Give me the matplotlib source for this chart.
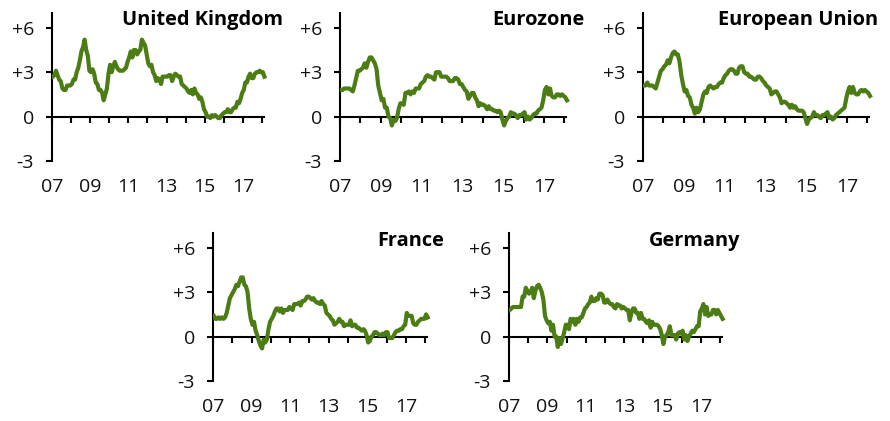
import matplotlib
matplotlib.use('Agg')
import matplotlib.pyplot as plt
import numpy as np

plt.rcParams['font.family'] = ['Open Sans', 'DejaVu Sans']

# ---- data: monthly y/y inflation, Jan 2007 .. Feb 2018 ----
start_year = 2007

uk = [2.7, 2.8, 3.1, 2.8, 2.5, 2.4, 1.9, 1.8, 1.8, 2.1, 2.1, 2.1,
      2.2, 2.5, 2.5, 3.0, 3.3, 3.8, 4.4, 4.7, 5.2, 4.5, 4.1, 3.1,
      3.0, 3.2, 2.9, 2.3, 2.2, 1.8, 1.8, 1.6, 1.1, 1.5, 1.9, 2.9,
      3.5, 3.0, 3.4, 3.7, 3.4, 3.2, 3.1, 3.1, 3.1, 3.2, 3.3, 3.7,
      4.0, 4.4, 4.0, 4.5, 4.5, 4.2, 4.4, 4.5, 5.2, 5.0, 4.8, 4.2,
      3.6, 3.4, 3.5, 3.0, 2.8, 2.4, 2.6, 2.5, 2.2, 2.7, 2.7, 2.7,
      2.7, 2.8, 2.8, 2.4, 2.7, 2.9, 2.8, 2.7, 2.7, 2.2, 2.1, 2.0,
      1.9, 1.7, 1.6, 1.8, 1.5, 1.9, 1.6, 1.5, 1.2, 1.3, 1.0, 0.5,
      0.3, 0.0, 0.0, -0.1, 0.1, 0.0, 0.1, 0.0, -0.1, -0.1, 0.1, 0.2,
      0.3, 0.3, 0.5, 0.3, 0.3, 0.5, 0.6, 0.6, 1.0, 0.9, 1.2, 1.6,
      1.8, 2.3, 2.3, 2.7, 2.9, 2.6, 2.6, 2.9, 3.0, 3.0, 3.1, 3.0,
      3.0, 2.7]

eurozone = [1.8, 1.8, 1.9, 1.9, 1.9, 1.9, 1.8, 1.7, 2.1, 2.6, 3.1, 3.1,
            3.2, 3.3, 3.6, 3.3, 3.7, 4.0, 4.0, 3.8, 3.6, 3.2, 2.1, 1.6,
            1.1, 1.2, 0.6, 0.6, 0.0, -0.1, -0.6, -0.2, -0.3, -0.1, 0.5, 0.9,
            0.9, 0.8, 1.6, 1.6, 1.7, 1.5, 1.7, 1.6, 1.9, 1.9, 1.9, 2.2,
            2.3, 2.4, 2.7, 2.8, 2.7, 2.7, 2.6, 2.5, 3.0, 3.0, 3.0, 2.7,
            2.7, 2.7, 2.7, 2.6, 2.4, 2.4, 2.4, 2.6, 2.6, 2.5, 2.2, 2.2,
            2.0, 1.8, 1.7, 1.2, 1.4, 1.6, 1.6, 1.3, 1.1, 0.7, 0.9, 0.8,
            0.8, 0.7, 0.5, 0.7, 0.5, 0.5, 0.4, 0.4, 0.3, 0.4, 0.3, -0.2,
            -0.6, -0.3, -0.1, 0.0, 0.3, 0.2, 0.2, 0.1, -0.1, 0.1, 0.1, 0.2,
            0.3, -0.2, 0.0, -0.2, -0.1, 0.1, 0.2, 0.2, 0.4, 0.5, 0.6, 1.1,
            1.8, 2.0, 1.5, 1.9, 1.4, 1.3, 1.3, 1.5, 1.5, 1.4, 1.5, 1.4,
            1.3, 1.1]

eu = [2.1, 2.1, 2.3, 2.1, 2.1, 2.1, 2.0, 1.9, 2.3, 2.7, 3.1, 3.2,
      3.4, 3.5, 3.8, 3.6, 4.0, 4.3, 4.4, 4.2, 4.2, 3.7, 2.8, 2.2,
      1.7, 1.8, 1.4, 1.3, 0.8, 0.6, 0.2, 0.6, 0.3, 0.5, 1.0, 1.5,
      1.7, 1.6, 2.0, 2.1, 2.0, 1.9, 2.0, 2.0, 2.2, 2.3, 2.3, 2.6,
      2.8, 2.9, 3.1, 3.2, 3.2, 3.1, 2.9, 2.9, 3.3, 3.4, 3.4, 3.0,
      2.9, 2.9, 2.7, 2.7, 2.6, 2.5, 2.5, 2.7, 2.7, 2.6, 2.4, 2.3,
      2.1, 2.0, 1.9, 1.5, 1.6, 1.7, 1.7, 1.5, 1.3, 0.9, 1.0, 1.0,
      0.9, 0.8, 0.6, 0.8, 0.6, 0.7, 0.5, 0.4, 0.4, 0.4, 0.3, -0.1,
      -0.5, -0.2, -0.1, 0.0, 0.3, 0.1, 0.1, 0.0, -0.1, 0.1, 0.1, 0.2,
      0.3, -0.1, 0.0, -0.2, -0.1, 0.1, 0.2, 0.3, 0.4, 0.5, 0.6, 1.2,
      1.7, 2.0, 1.6, 2.0, 1.6, 1.5, 1.5, 1.7, 1.8, 1.7, 1.8, 1.7,
      1.6, 1.4]

france = [1.4, 1.2, 1.2, 1.3, 1.2, 1.3, 1.2, 1.3, 1.6, 2.1, 2.6, 2.8,
          3.0, 3.2, 3.5, 3.4, 3.7, 4.0, 4.0, 3.5, 3.4, 3.0, 1.9, 1.2,
          0.8, 1.0, 0.4, 0.1, -0.3, -0.6, -0.8, -0.2, -0.4, -0.2, 0.5, 1.0,
          1.2, 1.4, 1.7, 1.9, 1.9, 1.7, 1.9, 1.6, 1.8, 1.8, 1.8, 2.0,
          1.9, 1.8, 2.2, 2.2, 2.2, 2.3, 2.1, 2.4, 2.4, 2.5, 2.7, 2.7,
          2.6, 2.5, 2.6, 2.4, 2.3, 2.3, 2.2, 2.4, 2.2, 2.1, 1.6, 1.5,
          1.4, 1.2, 1.1, 0.8, 0.9, 1.0, 1.2, 1.0, 1.0, 0.7, 0.8, 0.8,
          0.8, 1.1, 0.7, 0.8, 0.8, 0.6, 0.6, 0.5, 0.4, 0.5, 0.4, 0.1,
          -0.4, -0.3, 0.0, 0.1, 0.3, 0.3, 0.2, 0.1, 0.1, 0.2, 0.1, 0.3,
          0.3, -0.1, -0.1, -0.1, 0.1, 0.3, 0.4, 0.4, 0.5, 0.5, 0.7, 0.8,
          1.6, 1.4, 1.4, 1.4, 0.9, 0.8, 0.8, 1.0, 1.1, 1.2, 1.2, 1.2,
          1.5, 1.3]

germany = [1.8, 1.9, 2.0, 2.0, 2.0, 2.0, 2.0, 2.0, 2.7, 2.7, 3.3, 3.1,
           2.9, 3.0, 3.3, 2.6, 3.1, 3.4, 3.5, 3.3, 3.0, 2.5, 1.4, 1.1,
           0.9, 1.0, 0.4, 0.8, 0.0, 0.0, -0.7, -0.1, -0.5, -0.1, 0.3, 0.8,
           0.8, 0.5, 1.2, 1.0, 1.2, 0.8, 1.2, 1.0, 1.3, 1.3, 1.6, 1.9,
           2.0, 2.2, 2.3, 2.7, 2.4, 2.4, 2.6, 2.5, 2.9, 2.9, 2.8, 2.3,
           2.3, 2.5, 2.3, 2.2, 2.2, 2.0, 1.9, 2.2, 2.1, 2.1, 1.9, 2.0,
           1.9, 1.8, 1.8, 1.1, 1.6, 1.9, 1.9, 1.6, 1.6, 1.2, 1.6, 1.2,
           1.2, 1.0, 0.9, 1.1, 0.6, 1.0, 0.8, 0.8, 0.8, 0.7, 0.5, 0.1,
           -0.5, 0.0, 0.1, 0.3, 0.7, 0.1, 0.1, 0.1, -0.2, 0.2, 0.3, 0.2,
           0.4, -0.2, 0.1, -0.3, 0.0, 0.2, 0.4, 0.3, 0.5, 0.7, 0.7, 1.7,
           1.9, 2.2, 1.5, 2.0, 1.4, 1.5, 1.5, 1.8, 1.8, 1.5, 1.8, 1.6,
           1.4, 1.2]

titles = ["United Kingdom", "Eurozone", "European Union", "France", "Germany"]
series = [uk, eurozone, eu, france, germany]

tick_years = list(range(2007, 2019))
label_years = [2007, 2009, 2011, 2013, 2015, 2017]
label_texts = ["07", "09", "11", "13", "15", "17"]
ytick_vals = [-3, 0, 3, 6]
ytick_texts = ["-3", "0", "+3", "+6"]

# ---- layout (figure fractions) ----
W, H = 890, 421
axes_px = [  # left px, bottom px (from top), width px
    (52, 161, 217.7),
    (340, 161, 232.6),
    (643, 161, 232.6),
    (213, 381, 220.0),
    (509, 381, 218.9),
]
ax_h = 148
title_px = [(283, 25), (585, 25), (878, 25), (444, 245.5), (740, 245.5)]

GREEN = '#4b7d14'
TXT = '#111111'

fig = plt.figure(figsize=(W / 100, H / 100), dpi=100)

for (name, vals, (lx, by, wd), (tx, ty)) in zip(titles, series, axes_px, title_px):
    ax = fig.add_axes([lx / W, 1 - by / H, wd / W, ax_h / H])
    x = start_year + (np.arange(len(vals)) + 0.5) / 12
    ax.plot(x, vals, color=GREEN, lw=3.0, zorder=3, solid_joinstyle='round')
    ax.set_xlim(2007, 2018.4)
    ax.set_ylim(-3, 7)
    ax.patch.set_visible(False)
    for s in ('top', 'right'):
        ax.spines[s].set_visible(False)
    ax.spines['bottom'].set_position(('data', 0))
    ax.spines['bottom'].set_bounds(2007, 2018.1)
    ax.spines['left'].set_bounds(-3, 7)
    for s in ('bottom', 'left'):
        ax.spines[s].set_linewidth(1.5)
        ax.spines[s].set_color('black')
    ax.set_xticks(tick_years)
    ax.tick_params(axis='x', direction='out', length=4, width=1.5,
                   labelbottom=False)
    ax.set_yticks(ytick_vals)
    ax.set_yticklabels(ytick_texts)
    ax.tick_params(axis='y', direction='out', length=4, width=1.5, pad=9,
                   labelsize=14, labelcolor=TXT)
    sec = ax.secondary_xaxis('bottom')
    sec.set_xticks(label_years, labels=label_texts)
    sec.tick_params(length=0, pad=12, labelsize=14, labelcolor=TXT)
    sec.spines['bottom'].set_visible(False)
    fig.text(tx / W, 1 - ty / H, name, ha='right', va='baseline',
             fontsize=14.4, fontweight='bold', color='black')

fig.savefig('out.png', dpi=100)
